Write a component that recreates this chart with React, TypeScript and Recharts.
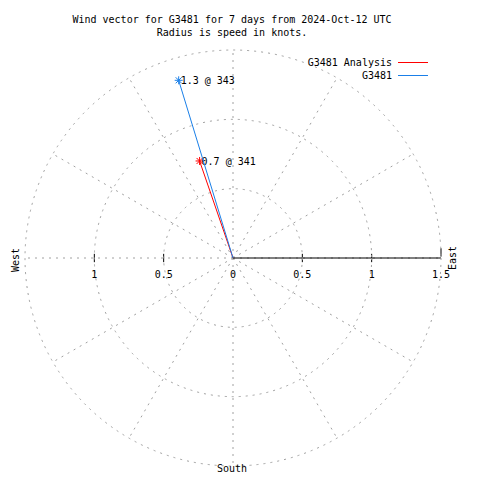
import { ReferenceDot, ReferenceLine, Scatter, ScatterChart, XAxis, YAxis } from "recharts";

const seriesNames = ["G3481 Analysis", "G3481"];
const seriesColors = ["#ff0000", "#1a7fe8"];
const speeds = [0.74, 1.34];
const directions = [341, 343];
const ringValues = [0.5, 1, 1.5];
const spokeAngles = [0, 30, 60, 90, 120, 150, 180, 210, 240, 270, 300, 330];
const westTicks = [1, 0.5];
const eastTicks = [0, 0.5, 1, 1.5];

const W = 464;
const H = 464;
const margin = { top: 42, right: 31, bottom: 6, left: 17 };
const maxR = 1.5;
const pxPerUnit = (W - margin.left - margin.right) / (2 * maxR);
const mono = "'DejaVu Sans Mono', 'Liberation Mono', monospace";
const gridColor = "#a0a0a0";
const gridDash = "2 5";

const rad = (d: number) => (d * Math.PI) / 180;

const vectors = seriesNames.map((name, i) => ({
  name,
  color: seriesColors[i],
  points: [
    { x: 0, y: 0, end: false, label: "" },
    {
      x: speeds[i] * Math.sin(rad(directions[i])),
      y: speeds[i] * Math.cos(rad(directions[i])),
      end: true,
      label: `${speeds[i].toFixed(1)} @ ${directions[i]}`,
    },
  ],
}));

function Star(color: string) {
  return (props: any) => {
    const { cx, cy, payload } = props;
    if (!payload?.end) return <g />;
    const s = 4;
    return (
      <g>
        <g stroke={color} strokeWidth={1}>
          <line x1={cx - s} y1={cy} x2={cx + s} y2={cy} />
          <line x1={cx} y1={cy - s} x2={cx} y2={cy + s} />
          <line x1={cx - 3} y1={cy - 3} x2={cx + 3} y2={cy + 3} />
          <line x1={cx - 3} y1={cy + 3} x2={cx + 3} y2={cy - 3} />
        </g>
        <text x={cx + 2} y={cy + 4} fontFamily={mono} fontSize={10} fill="#000">
          {payload.label}
        </text>
      </g>
    );
  };
}

function Txt({ x, y, children, rotate = 0, align = "center" }: any) {
  const tx = align === "center" ? "-50%" : align === "right" ? "-100%" : "0";
  return (
    <div
      style={{
        position: "absolute",
        left: x,
        top: y,
        transform: `translate(${tx}, -50%) rotate(${rotate}deg)`,
        fontFamily: mono,
        fontSize: 10,
        lineHeight: "12px",
        whiteSpace: "pre",
        color: "#000",
      }}
    >
      {children}
    </div>
  );
}

export default function App() {
  const o = 8;
  return (
    <div style={{ position: "relative", width: W, height: H }}>
      <ScatterChart width={W} height={H} margin={margin}>
        <XAxis type="number" dataKey="x" domain={[-maxR, maxR]} hide />
        <YAxis type="number" dataKey="y" domain={[-maxR, maxR]} hide />
        {ringValues.map((v) => (
          <ReferenceDot
            key={"ring" + v}
            x={0}
            y={0}
            r={v * pxPerUnit}
            fill="none"
            stroke={gridColor}
            strokeDasharray={gridDash}
            ifOverflow="visible"
          />
        ))}
        {spokeAngles.map((a) => (
          <ReferenceLine
            key={"spoke" + a}
            segment={[
              { x: 0, y: 0 },
              { x: maxR * Math.sin(rad(a)), y: maxR * Math.cos(rad(a)) },
            ]}
            stroke={gridColor}
            strokeDasharray={gridDash}
            ifOverflow="visible"
          />
        ))}
        <ReferenceLine segment={[{ x: 0, y: 0 }, { x: maxR, y: 0 }]} stroke="#000" ifOverflow="visible" />
        {eastTicks.slice(1).map((v) => (
          <ReferenceLine
            key={"et" + v}
            segment={[{ x: v, y: v === maxR ? 0.01 : -0.03 }, { x: v, y: v === maxR ? 0.07 : 0.03 }]}
            stroke="#000"
            ifOverflow="visible"
          />
        ))}
        {westTicks.map((v) => (
          <ReferenceLine
            key={"wt" + v}
            segment={[{ x: -v, y: -0.03 }, { x: -v, y: 0.03 }]}
            stroke="#000"
            ifOverflow="visible"
          />
        ))}
        {vectors.map((s) => (
          <Scatter
            key={s.name}
            name={s.name}
            data={s.points}
            line={{ stroke: s.color, strokeWidth: 1 }}
            lineType="joint"
            shape={Star(s.color)}
            isAnimationActive={false}
          />
        ))}
      </ScatterChart>

      <Txt x={232 - o} y={20 - o}>Wind vector for G3481 for 7 days from 2024-Oct-12 UTC</Txt>
      <Txt x={232 - o} y={33 - o}>Radius is speed in knots.</Txt>

      {seriesNames.map((n, i) => (
        <div key={n}>
          <Txt x={392 - o} y={63 + i * 13 - o} align="right">{n}</Txt>
          <div
            style={{
              position: "absolute",
              left: 398 - o,
              top: 62 + i * 13 - o,
              width: 30,
              height: 1,
              background: seriesColors[i],
            }}
          />
        </div>
      ))}

      {westTicks.map((v) => (
        <Txt key={"wl" + v} x={233 - v * pxPerUnit - o} y={275 - o}>{String(v)}</Txt>
      ))}
      {eastTicks.map((v) => (
        <Txt key={"el" + v} x={233 + v * pxPerUnit - o} y={275 - o}>{String(v)}</Txt>
      ))}

      <Txt x={16 - o} y={260 - o} rotate={-90}>West</Txt>
      <Txt x={453 - o} y={258 - o} rotate={-90}>East</Txt>
      <Txt x={232 - o} y={469 - o}>South</Txt>
    </div>
  );
}
